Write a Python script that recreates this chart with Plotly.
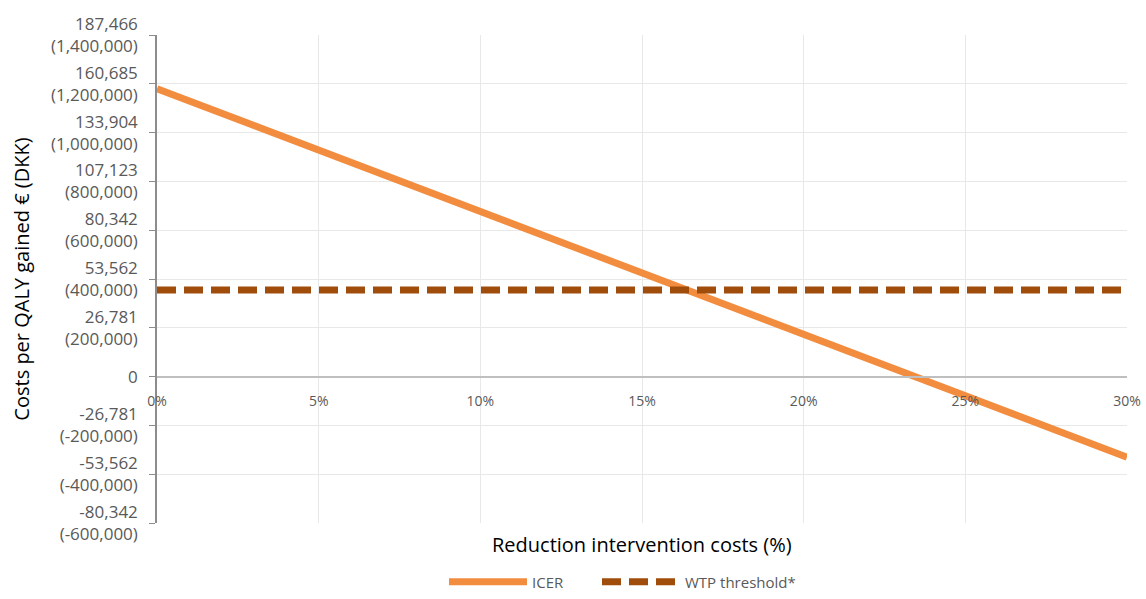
import plotly.graph_objects as go

# Reduction in intervention costs (%) and resulting ICER (DKK per QALY)
reduction_pct = [0, 30]
icer_dkk = [1180000, -330000]
wtp_dkk = [355000, 355000]

# Dual-currency tick labels: euro value above, DKK in parentheses
y_tick_vals = [-600000, -400000, -200000, 0, 200000, 400000, 600000,
               800000, 1000000, 1200000, 1400000]
y_tick_eur = ["-80,342", "-53,562", "-26,781", "0", "26,781", "53,562",
              "80,342", "107,123", "133,904", "160,685", "187,466"]
y_tick_dkk = ["(-600,000)", "(-400,000)", "(-200,000)", "", "(200,000)",
              "(400,000)", "(600,000)", "(800,000)", "(1,000,000)",
              "(1,200,000)", "(1,400,000)"]
x_tick_vals = [0, 5, 10, 15, 20, 25, 30]
x_tick_text = ["0%", "5%", "10%", "15%", "20%", "25%", "30%"]

y_tick_text = [e if d == "" else f"{e}<br>{d}" for e, d in zip(y_tick_eur, y_tick_dkk)]

FONT = "Open Sans"
GRAY = "#595959"
y_min, y_max = -600000, 1400000
W, H = 1146, 599
M_L, M_R, M_T, M_B = 157, 19, 35, 76
plot_h = H - M_T - M_B

fig = go.Figure()
fig.add_trace(go.Scatter(
    x=reduction_pct, y=icer_dkk, mode="lines", name="ICER",
    line=dict(color="#F28C3E", width=7), legend="legend",
))
fig.add_trace(go.Scatter(
    x=reduction_pct, y=wtp_dkk, mode="lines", name="WTP threshold*",
    line=dict(color="#A04D0C", width=7, dash="19px,8px"), legend="legend2",
))

legend_style = dict(orientation="h", xref="container", xanchor="left",
                    yref="container", y=1 - 582 / H, yanchor="middle",
                    font=dict(family=FONT, size=15, color=GRAY),
                    itemwidth=78, bgcolor="rgba(0,0,0,0)")

fig.update_layout(
    width=W, height=H,
    margin=dict(l=M_L, r=M_R, t=M_T, b=M_B, autoexpand=False),
    paper_bgcolor="white", plot_bgcolor="white",
    font=dict(family=FONT, size=15, color=GRAY),
    showlegend=True,
    legend=dict(legend_style, x=444 / W),
    legend2=dict(legend_style, x=597 / W),
    xaxis=dict(
        range=[0, 30], tickvals=x_tick_vals, ticktext=x_tick_text,
        anchor="free", position=(0 - y_min) / (y_max - y_min),
        showgrid=True, gridcolor="#E8E8E8", gridwidth=1,
        showline=True, linecolor="#BFBFBF", linewidth=1.5,
        zeroline=False, ticks="", ticklabelstandoff=12,
        tickfont=dict(family=FONT, size=14, color=GRAY),
        automargin=False,
    ),
    yaxis=dict(
        range=[y_min, y_max], tickvals=y_tick_vals, ticktext=y_tick_text,
        showgrid=True, gridcolor="#E8E8E8", gridwidth=1,
        showline=True, linecolor="#8C8C8C", linewidth=1.5,
        zeroline=False, ticks="outside", ticklen=6, tickcolor="#8C8C8C",
        ticklabelstandoff=8,
        tickfont=dict(family=FONT, size=17, color=GRAY),
        title=dict(text="Costs per QALY gained € (DKK)",
                   font=dict(family=FONT, size=20, color="black"), standoff=16),
        automargin=False,
    ),
    annotations=[dict(
        text="Reduction intervention costs (%)", x=0.5, xref="paper",
        y=-(544 - (H - M_B)) / plot_h, yref="paper", yanchor="middle",
        showarrow=False,
        font=dict(family=FONT, size=20, color="black"),
    )],
)

fig.write_html("out.html")
